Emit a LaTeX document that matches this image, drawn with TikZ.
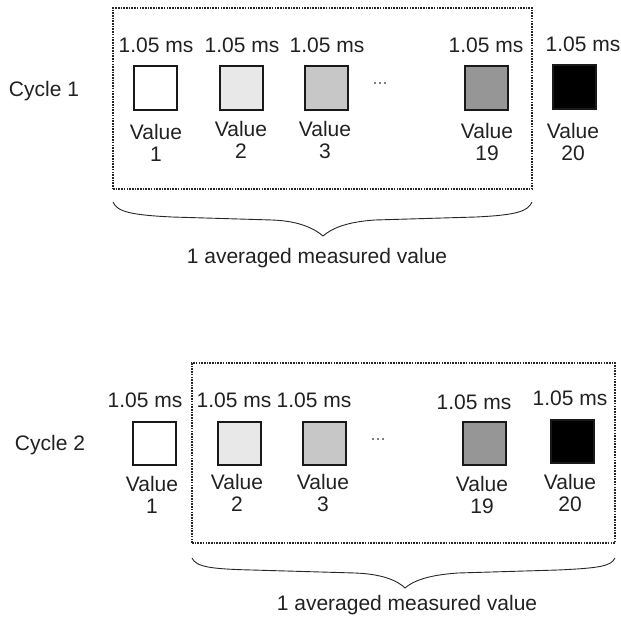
\documentclass[tikz,border=0pt]{standalone}
\usepackage{fontspec}
\setmainfont{Liberation Sans}
\begin{document}
\begin{tikzpicture}[x=1pt,y=-1pt,
  every node/.style={text=black!87, font=\fontsize{21}{22}\selectfont, inner sep=0pt},
  val/.style={draw=black!90, line width=2pt, minimum size=43pt, text=black},
  lab/.style={align=center},
  dots/.style={text=black!60, font=\fontsize{18}{20}\selectfont},
  grp/.style={draw=black!85, line width=1.4pt, dash pattern=on 1.6pt off 1.1pt},
  brc/.style={draw=black!85, line width=0.9pt}]
\useasboundingbox (0,0) rectangle (621,618);
% ---------- Cycle 1 ----------
\node (c1) at (44,91) {Cycle 1};
\node[val, fill=white]    (a1)  at (155.5,88) {};
\node[val, fill=black!9]  (a2)  at (241,88) {};
\node[val, fill=black!22] (a3)  at (326,88) {};
\node[val, fill=black!41] (a19) at (486.5,88) {};
\node[val, fill=black]    (a20) at (574,87) {};
\node[dots] (ad) at (380,84) {...};
\node (at1)  at (156,45) {1.05 ms};
\node (at2)  at (242,45) {1.05 ms};
\node (at3)  at (327,45) {1.05 ms};
\node (at19) at (486,45) {1.05 ms};
\node (at20) at (583,44) {1.05 ms};
\node[lab] (av1)  at (156,143) {Value\\1};
\node[lab] (av2)  at (241,140) {Value\\2};
\node[lab] (av3)  at (325,140) {Value\\3};
\node[lab] (av19) at (487,142) {Value\\19};
\node[lab] (av20) at (573,142) {Value\\20};
\node[grp, minimum width=419pt, minimum height=181pt] (ga) at (322.5,98.5) {};
\draw[brc] (113,202) .. controls (117,212) and (132,215) .. (172,217) -- (272,220)
  .. controls (300,221) and (315,229) .. (323,236) coordinate (bta)
  .. controls (331,229) and (345,222) .. (375,220) -- (476,217)
  .. controls (518,215) and (528,211) .. (532,202);
\node (ma) at (317,258) {1 averaged measured value};
% ---------- Cycle 2 ----------
\node (c2) at (50,445) {Cycle 2};
\node[val, fill=white]    (b1)  at (154.5,443) {};
\node[val, fill=black!9]  (b2)  at (239.5,443) {};
\node[val, fill=black!22] (b3)  at (324.5,443) {};
\node[val, fill=black!41] (b19) at (484.5,443) {};
\node[val, fill=black]    (b20) at (572,441.5) {};
\node[dots] (bd) at (378,440) {...};
\node (bt1)  at (145,400) {1.05 ms};
\node (bt2)  at (234,400) {1.05 ms};
\node (bt3)  at (314,400) {1.05 ms};
\node (bt19) at (474,402) {1.05 ms};
\node (bt20) at (570,398) {1.05 ms};
\node[lab] (bv1)  at (152,495) {Value\\1};
\node[lab] (bv2)  at (237,493) {Value\\2};
\node[lab] (bv3)  at (323,493) {Value\\3};
\node[lab] (bv19) at (482,495) {Value\\19};
\node[lab] (bv20) at (570,493) {Value\\20};
\node[grp, minimum width=423pt, minimum height=180pt] (gb) at (403.5,453) {};
\draw[brc] (192,558) .. controls (196,567) and (211,569) .. (252,570) -- (355,573)
  .. controls (383,574) and (398,581) .. (405,588) coordinate (btb)
  .. controls (413,581) and (428,575) .. (458,573) -- (558,570)
  .. controls (601,568) and (611,566) .. (615,558);
\node (mb) at (407,605) {1 averaged measured value};
\end{tikzpicture}
\end{document}
